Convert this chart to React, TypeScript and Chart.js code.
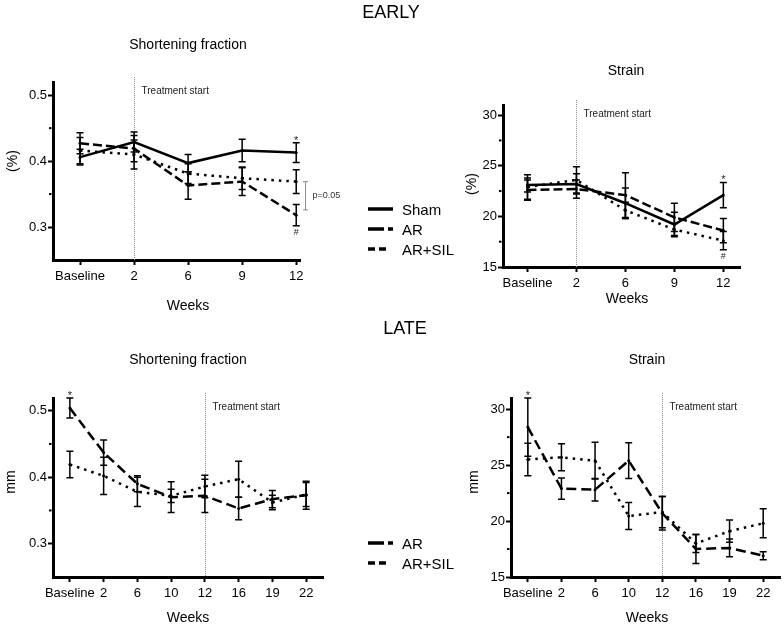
import React, { useEffect, useRef } from 'react';
import { Chart, registerables } from 'chart.js';

Chart.register(...registerables);

const FONT = '"Liberation Sans", Arial, Helvetica, sans-serif';
Chart.defaults.font.family = FONT;

const W = 784;
const H = 627;
const Y_W = 40;
const X_H = 28;

// ---------- categories & ticks ----------
const earlyWeeks = ['Baseline', '2', '6', '9', '12'];
const lateWeeks = ['Baseline', '2', '6', '10', '12', '16', '19', '22'];
const sfTicks = [0.3, 0.4, 0.5];
const sfMinor = [0.35, 0.45];
const strainTicks = [15, 20, 25, 30];
const strainMinor = [17.5, 22.5, 27.5];

// ---------- EARLY: shortening fraction ----------
const earlySfSham = [0.406, 0.429, 0.397, 0.416, 0.413];
const earlySfShamErr = [0.012, 0.015, 0.013, 0.017, 0.015];
const earlySfAr = [0.427, 0.419, 0.363, 0.369, 0.318];
const earlySfArErr = [0.016, 0.02, 0.021, 0.021, 0.016];
const earlySfArSil = [0.416, 0.41, 0.381, 0.374, 0.369];
const earlySfArSilErr = [0.02, 0.022, 0.015, 0.017, 0.018];

// ---------- EARLY: strain ----------
const earlyStSham = [23.1, 23.2, 21.3, 19.2, 22.1];
const earlyStShamErr = [0.7, 1.0, 1.5, 1.2, 1.25];
const earlyStAr = [22.6, 22.7, 22.1, 19.9, 18.6];
const earlyStArErr = [1.0, 0.9, 2.2, 1.4, 1.2];
const earlyStArSil = [22.9, 23.6, 20.6, 18.7, 17.6];
const earlyStArSilErr = [1.2, 1.3, 0.8, 0.6, 0.9];

// ---------- LATE: shortening fraction ----------
const lateSfAr = [0.504, 0.437, 0.39, 0.37, 0.372, 0.353, 0.367, 0.373];
const lateSfArErr = [0.015, 0.019, 0.012, 0.023, 0.025, 0.017, 0.013, 0.021];
const lateSfArSil = [0.419, 0.402, 0.378, 0.372, 0.386, 0.397, 0.362, 0.374];
const lateSfArSilErr = [0.02, 0.028, 0.022, 0.01, 0.017, 0.027, 0.011, 0.018];

// ---------- LATE: strain ----------
const lateStAr = [28.4, 22.9, 22.8, 25.4, 20.7, 17.5, 17.6, 16.9];
const lateStArErr = [2.6, 0.95, 1.0, 1.6, 1.5, 1.3, 0.8, 0.35];
const lateStArSil = [25.5, 25.7, 25.4, 20.45, 20.8, 18.0, 19.1, 19.8];
const lateStArSilErr = [1.45, 1.2, 1.65, 1.2, 1.4, 0.8, 1.0, 1.3];

// significance bracket between groups at week 12 (early SF)
const earlySfBracket = [0.369, 0.326];

type Series = { label: string; values: number[]; errors: number[]; dash: number[] };
type Mark = { s: number; i: number; side: 'above' | 'below'; text: string };
type Panel = {
  labels: string[];
  series: Series[];
  yMin: number;
  yMax: number;
  yTicks: number[];
  yMinor: number[];
  xMin: number;
  xMax: number;
  treatment: number;
  area: { left: number; top: number; right: number; bottom: number };
  marks: Mark[];
  bracket?: { i: number; from: number; to: number; text: string };
};

const SOLID: number[] = [];
const EARLY_DASH = [9, 4];
const LATE_DASH = [10, 5];
const DOT = [2.5, 5];

const panels: Panel[] = [
  {
    labels: earlyWeeks,
    series: [
      { label: 'Sham', values: earlySfSham, errors: earlySfShamErr, dash: SOLID },
      { label: 'AR', values: earlySfAr, errors: earlySfArErr, dash: EARLY_DASH },
      { label: 'AR+SIL', values: earlySfArSil, errors: earlySfArSilErr, dash: DOT },
    ],
    yMin: 0.25, yMax: 0.52, yTicks: sfTicks, yMinor: sfMinor,
    xMin: -0.5, xMax: 4.07, treatment: 1,
    area: { left: 53, top: 82, right: 300, bottom: 260 },
    marks: [
      { s: 0, i: 4, side: 'above', text: '*' },
      { s: 1, i: 4, side: 'below', text: '#' },
    ],
    bracket: { i: 4, from: earlySfBracket[0], to: earlySfBracket[1], text: 'p=0.05' },
  },
  {
    labels: earlyWeeks,
    series: [
      { label: 'Sham', values: earlyStSham, errors: earlyStShamErr, dash: SOLID },
      { label: 'AR', values: earlyStAr, errors: earlyStArErr, dash: EARLY_DASH },
      { label: 'AR+SIL', values: earlyStArSil, errors: earlyStArSilErr, dash: DOT },
    ],
    yMin: 15, yMax: 31, yTicks: strainTicks, yMinor: strainMinor,
    xMin: -0.5, xMax: 4.34, treatment: 1,
    area: { left: 503, top: 105, right: 740, bottom: 267 },
    marks: [
      { s: 0, i: 4, side: 'above', text: '*' },
      { s: 2, i: 4, side: 'below', text: '#' },
    ],
  },
  {
    labels: lateWeeks,
    series: [
      { label: 'AR', values: lateSfAr, errors: lateSfArErr, dash: LATE_DASH },
      { label: 'AR+SIL', values: lateSfArSil, errors: lateSfArSilErr, dash: DOT },
    ],
    yMin: 0.25, yMax: 0.519, yTicks: sfTicks, yMinor: sfMinor,
    xMin: -0.5, xMax: 7.5, treatment: 4,
    area: { left: 53, top: 398, right: 323, bottom: 577 },
    marks: [{ s: 0, i: 0, side: 'above', text: '*' }],
  },
  {
    labels: lateWeeks,
    series: [
      { label: 'AR', values: lateStAr, errors: lateStArErr, dash: LATE_DASH },
      { label: 'AR+SIL', values: lateStArSil, errors: lateStArSilErr, dash: DOT },
    ],
    yMin: 15, yMax: 31, yTicks: strainTicks, yMinor: strainMinor,
    xMin: -0.5, xMax: 7.5, treatment: 4,
    area: { left: 511, top: 398, right: 782, bottom: 577 },
    marks: [{ s: 0, i: 0, side: 'above', text: '*' }],
  },
];

function makeOverlay(p: Panel) {
  return {
    id: 'overlay',
    beforeDatasetsDraw(chart: any) {
      const { ctx, chartArea, scales } = chart;
      const x = scales.x;
      const tx = Math.round(x.getPixelForValue(p.treatment)) + 0.5;
      ctx.save();
      ctx.strokeStyle = '#8c8c8c';
      ctx.lineWidth = 1;
      ctx.setLineDash([1, 1]);
      ctx.beginPath();
      ctx.moveTo(tx, chartArea.top - 5);
      ctx.lineTo(tx, chartArea.bottom);
      ctx.stroke();
      ctx.setLineDash([]);
      ctx.fillStyle = '#222';
      ctx.font = '10px ' + FONT;
      ctx.textAlign = 'left';
      ctx.textBaseline = 'middle';
      ctx.fillText('Treatment start', tx + 7, chartArea.top + 9);
      ctx.restore();
    },
    afterDatasetsDraw(chart: any) {
      const { ctx, scales } = chart;
      const x = scales.x;
      const y = scales.y;
      ctx.save();
      ctx.strokeStyle = '#000';
      ctx.lineWidth = 1.5;
      ctx.setLineDash([]);
      p.series.forEach((s) => {
        s.values.forEach((v, i) => {
          const e = s.errors[i];
          const px = x.getPixelForValue(i);
          const t = y.getPixelForValue(v + e);
          const b = y.getPixelForValue(v - e);
          ctx.beginPath();
          ctx.moveTo(px, t);
          ctx.lineTo(px, b);
          ctx.moveTo(px - 3.5, t);
          ctx.lineTo(px + 3.5, t);
          ctx.moveTo(px - 3.5, b);
          ctx.lineTo(px + 3.5, b);
          ctx.stroke();
        });
      });
      ctx.fillStyle = '#222';
      ctx.textAlign = 'center';
      ctx.textBaseline = 'alphabetic';
      p.marks.forEach((m) => {
        const s = p.series[m.s];
        const v = s.values[m.i];
        const e = s.errors[m.i];
        const px = x.getPixelForValue(m.i);
        if (m.side === 'above') {
          ctx.font = '11px ' + FONT;
          ctx.fillText(m.text, px, y.getPixelForValue(v + e) + 1);
        } else {
          ctx.font = '9px ' + FONT;
          ctx.fillText(m.text, px, y.getPixelForValue(v - e) + 9);
        }
      });
      if (p.bracket) {
        const bx = Math.round(x.getPixelForValue(p.bracket.i) + 9) + 0.5;
        const t = y.getPixelForValue(p.bracket.from);
        const b = y.getPixelForValue(p.bracket.to);
        ctx.strokeStyle = '#8c8c8c';
        ctx.lineWidth = 1;
        ctx.beginPath();
        ctx.moveTo(bx, t);
        ctx.lineTo(bx, b);
        ctx.moveTo(bx - 2.5, t);
        ctx.lineTo(bx + 2.5, t);
        ctx.moveTo(bx - 2.5, b);
        ctx.lineTo(bx + 2.5, b);
        ctx.stroke();
        ctx.fillStyle = '#333';
        ctx.font = '9px ' + FONT;
        ctx.textAlign = 'left';
        ctx.textBaseline = 'middle';
        ctx.fillText(p.bracket.text, bx + 7, (t + b) / 2);
      }
      ctx.restore();
    },
    afterDraw(chart: any) {
      const { ctx, chartArea, scales } = chart;
      const y = scales.y;
      ctx.save();
      ctx.fillStyle = '#000';
      p.yMinor.forEach((v) => {
        const py = y.getPixelForValue(v);
        ctx.fillRect(chartArea.left - 4, py - 1, 2.5, 2);
      });
      ctx.restore();
    },
  };
}

function buildChart(canvas: HTMLCanvasElement, p: Panel) {
  const tickFont = { size: 13, family: FONT };
  const grid = {
    display: true,
    drawOnChartArea: false,
    drawTicks: true,
    tickLength: 5,
    tickWidth: 2,
    tickColor: '#000',
    color: '#000',
  };
  const border = { display: true, color: '#000', width: 3 };
  return new Chart(canvas, {
    type: 'line',
    data: {
      datasets: p.series.map((s) => ({
        label: s.label,
        data: s.values.map((v, i) => ({ x: i, y: v })),
        borderColor: '#000',
        backgroundColor: '#000',
        borderWidth: 2.5,
        borderDash: s.dash,
        borderCapStyle: 'butt',
        pointRadius: 1.5,
        pointBorderWidth: 0,
        pointBackgroundColor: '#000',
        tension: 0,
        fill: false,
      })),
    },
    options: {
      responsive: false,
      animation: false,
      devicePixelRatio: 1,
      events: [],
      layout: {
        padding: {
          left: p.area.left - Y_W,
          top: p.area.top,
          right: W - p.area.right,
          bottom: H - p.area.bottom - X_H,
        },
      },
      plugins: { legend: { display: false }, tooltip: { enabled: false } },
      scales: {
        x: {
          type: 'linear',
          min: p.xMin,
          max: p.xMax,
          afterBuildTicks: (ax: any) => {
            ax.ticks = p.labels.map((_, i) => ({ value: i }));
          },
          afterFit: (ax: any) => {
            ax.height = X_H;
          },
          ticks: {
            callback: (v: any) => p.labels[v] ?? '',
            color: '#000',
            font: tickFont,
            padding: 4,
            maxRotation: 0,
            minRotation: 0,
            autoSkip: false,
          },
          grid,
          border,
        },
        y: {
          type: 'linear',
          min: p.yMin,
          max: p.yMax,
          afterBuildTicks: (ax: any) => {
            ax.ticks = p.yTicks.map((v) => ({ value: v }));
          },
          afterFit: (ax: any) => {
            ax.width = Y_W;
          },
          ticks: {
            callback: (v: any) => String(v),
            color: '#000',
            font: tickFont,
            padding: 1,
          },
          grid,
          border,
        },
      },
    } as any,
    plugins: [makeOverlay(p)],
  } as any);
}

function Txt(props: { x: number; y: number; size: number; text: string; rotate?: boolean }) {
  return (
    <div
      style={{
        position: 'absolute',
        left: props.x,
        top: props.y,
        transform: 'translate(-50%, -50%)' + (props.rotate ? ' rotate(-90deg)' : ''),
        fontSize: props.size,
        lineHeight: 1,
        whiteSpace: 'nowrap',
      }}
    >
      {props.text}
    </div>
  );
}

function LegendRow(props: { x: number; y: number; dash: string; len: number; text: string }) {
  return (
    <div style={{ position: 'absolute', left: props.x, top: props.y - 8, height: 16, display: 'flex', alignItems: 'center' }}>
      <svg width={26} height={6} style={{ display: 'block' }}>
        <line x1={0} y1={3} x2={props.len} y2={3} stroke="#000" strokeWidth={3.5} strokeDasharray={props.dash} />
      </svg>
      <span style={{ marginLeft: 8, fontSize: 15, lineHeight: 1 }}>{props.text}</span>
    </div>
  );
}

export default function App() {
  const r0 = useRef<HTMLCanvasElement>(null);
  const r1 = useRef<HTMLCanvasElement>(null);
  const r2 = useRef<HTMLCanvasElement>(null);
  const r3 = useRef<HTMLCanvasElement>(null);
  const refs = [r0, r1, r2, r3];

  useEffect(() => {
    const charts = panels.map((p, k) => buildChart(refs[k].current as HTMLCanvasElement, p));
    return () => charts.forEach((c) => c.destroy());
  }, []);

  return (
    <div
      style={{
        position: 'absolute',
        left: 0,
        top: 0,
        width: W,
        height: H,
        overflow: 'hidden',
        background: '#fff',
        color: '#000',
        fontFamily: FONT,
      }}
    >
      {refs.map((r, k) => (
        <canvas key={k} ref={r} width={W} height={H} style={{ position: 'absolute', left: 0, top: 0, width: W, height: H }} />
      ))}
      <Txt x={391} y={12} size={18} text="EARLY" />
      <Txt x={405} y={328} size={18} text="LATE" />

      <Txt x={188} y={44} size={14} text="Shortening fraction" />
      <Txt x={626} y={70} size={14} text="Strain" />
      <Txt x={188} y={359} size={14} text="Shortening fraction" />
      <Txt x={647} y={359} size={14} text="Strain" />

      <Txt x={188} y={305} size={14} text="Weeks" />
      <Txt x={627} y={298} size={14} text="Weeks" />
      <Txt x={188} y={617} size={14} text="Weeks" />
      <Txt x={647} y={617} size={14} text="Weeks" />

      <Txt x={12} y={161} size={14} text="(%)" rotate />
      <Txt x={471} y={184} size={14} text="(%)" rotate />
      <Txt x={10} y={482} size={14} text="mm" rotate />
      <Txt x={473} y={482} size={14} text="mm" rotate />

      <LegendRow x={368} y={209} dash="none" len={25} text="Sham" />
      <LegendRow x={368} y={229} dash="16 4" len={25} text="AR" />
      <LegendRow x={368} y={249} dash="7 4" len={18} text="AR+SIL" />

      <LegendRow x={368} y={543} dash="16 4" len={25} text="AR" />
      <LegendRow x={368} y={563} dash="7 4" len={18} text="AR+SIL" />
    </div>
  );
}
